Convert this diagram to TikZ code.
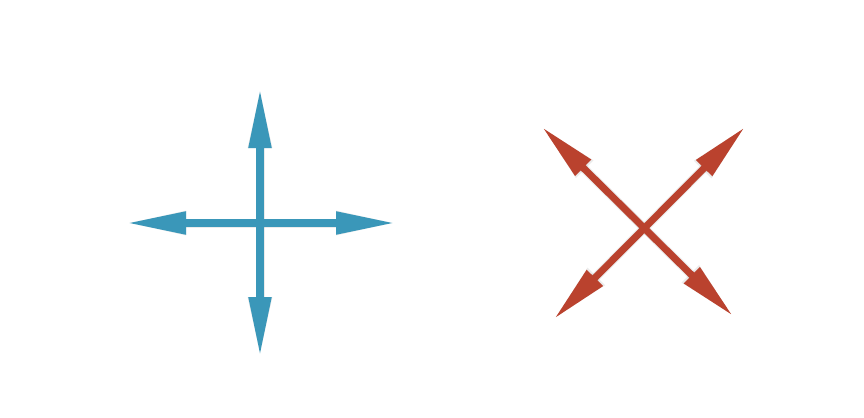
\documentclass[tikz,border=0pt]{standalone}
\usetikzlibrary{arrows.meta}
\definecolor{crossblue}{RGB}{58,151,185}
\definecolor{crossred}{RGB}{186,66,46}
\tikzset{
  bluearrow/.style={crossblue, line width=4pt, {Triangle[length=30pt,width=10.5pt]}-{Triangle[length=30pt,width=10.5pt]}},
  redarrow/.style={crossred, line width=3.5pt, {Triangle[length=29pt,width=10.5pt]}-{Triangle[length=29pt,width=10.5pt]}},
  shade/.style={black, opacity=0.08, line width=4.5pt, {Triangle[length=30pt,width=11pt]}-{Triangle[length=30pt,width=11pt]}}
}
\begin{document}
\begin{tikzpicture}[x=0.5pt,y=-0.5pt]
\fill[white] (0,0) rectangle (864,418);
\useasboundingbox (0,0) rectangle (864,418);
% blue cross
\coordinate (bt) at (260,88);
\coordinate (bb) at (260,357);
\coordinate (bl) at (126,223);
\coordinate (br) at (396,223);
% red X
\coordinate (rtl) at (542,127);
\coordinate (rbr) at (733,316);
\coordinate (rtr) at (745,127);
\coordinate (rbl) at (554,319);
% shadows
\begin{scope}[shift={(1.5,2)}]
\draw[shade] (bt) -- (bb);
\draw[shade] (bl) -- (br);
\draw[shade] (rtl) -- (rbr);
\draw[shade] (rtr) -- (rbl);
\end{scope}
\draw[bluearrow] (bt) -- (bb);
\draw[bluearrow] (bl) -- (br);
\draw[redarrow] (rtl) -- (rbr);
\draw[redarrow] (rtr) -- (rbl);
\end{tikzpicture}
\end{document}
